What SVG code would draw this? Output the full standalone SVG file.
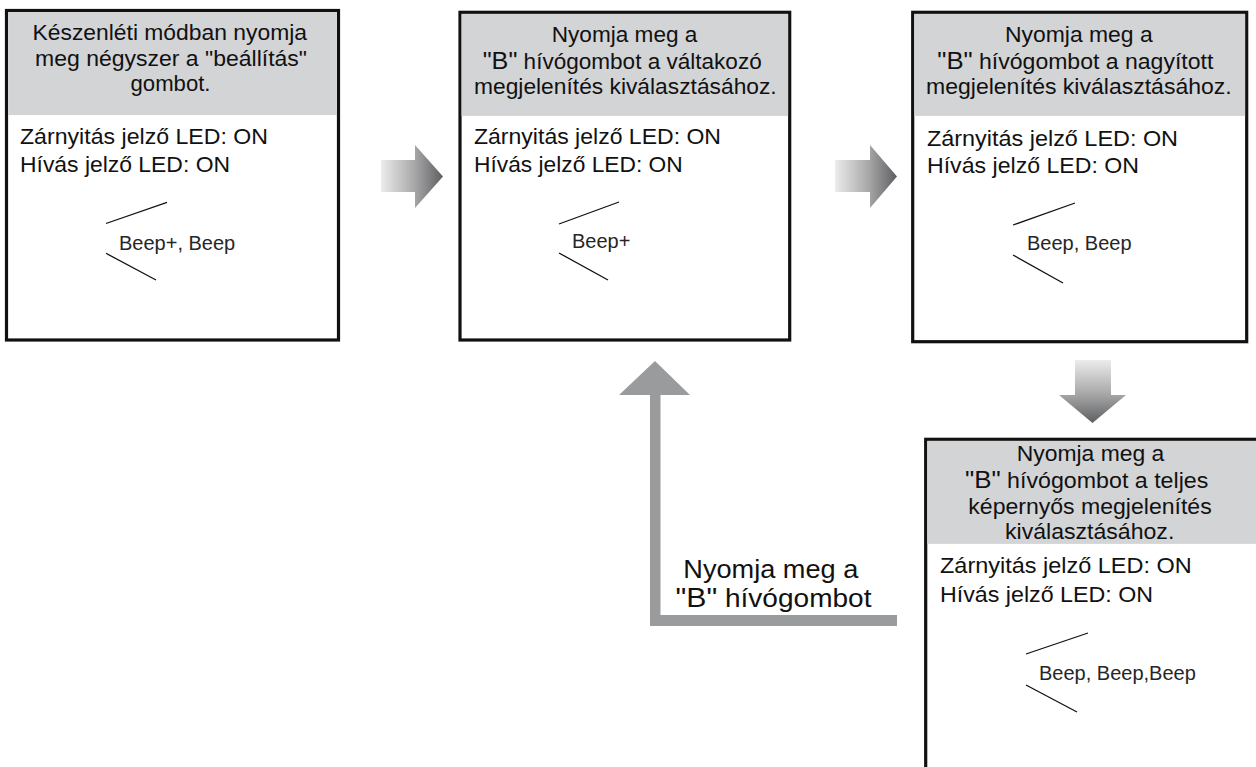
<svg xmlns="http://www.w3.org/2000/svg" width="1256" height="767" viewBox="0 0 1256 767">
<style>
.box{fill:#ffffff;stroke:#111111;stroke-width:3.2}
.hdr{fill:#d3d4d6}
.t{font-family:"Liberation Sans",Arial,sans-serif;font-size:21.5px;fill:#111111}
.b{font-size:24px}
.beep{font-family:"Liberation Sans",Arial,sans-serif;font-size:20px;fill:#262626}
.tick{stroke:#111111;stroke-width:1.3;fill:none}
.lbl{font-family:"Liberation Sans",Arial,sans-serif;font-size:25px;fill:#111111}
.loop{fill:#9a9b9d}
</style>
<defs>
<linearGradient id="gh" x1="0" y1="0" x2="1" y2="0">
<stop offset="0" stop-color="#ececec"/>
<stop offset="0.55" stop-color="#a6a6a7"/>
<stop offset="1" stop-color="#5e5f61"/>
</linearGradient>
<linearGradient id="gv" x1="0" y1="0" x2="0" y2="1">
<stop offset="0" stop-color="#ececec"/>
<stop offset="0.55" stop-color="#a6a6a7"/>
<stop offset="1" stop-color="#5e5f61"/>
</linearGradient>
</defs>
<rect width="1256" height="767" fill="#ffffff"/>

<g id="node1">
<rect class="box" x="6.5" y="10.5" width="332" height="329.5"/>
<rect class="hdr" x="8.1" y="12.1" width="328.8" height="103"/>
<text class="t" x="32.5" y="40" textLength="274.5" lengthAdjust="spacingAndGlyphs">Készenléti módban nyomja</text>
<text class="t" x="35" y="65.5" textLength="272" lengthAdjust="spacingAndGlyphs">meg négyszer a "beállítás"</text>
<text class="t" x="130.5" y="90.5" textLength="80" lengthAdjust="spacingAndGlyphs">gombot.</text>
<text class="t" x="20" y="143.5" textLength="248" lengthAdjust="spacingAndGlyphs">Zárnyitás jelző LED: ON</text>
<text class="t" x="20" y="171.5" textLength="210" lengthAdjust="spacingAndGlyphs">Hívás jelző LED: ON</text>
<line class="tick" x1="106" y1="223.5" x2="167" y2="202.3"/>
<line class="tick" x1="106" y1="253.3" x2="156" y2="280"/>
<text class="beep" x="119" y="250">Beep+, Beep</text>
</g>

<g id="node2">
<rect class="box" x="460" y="12.3" width="329.7" height="327.7"/>
<rect class="hdr" x="461.6" y="13.9" width="326.5" height="102"/>
<text class="t" x="551.7" y="41.7" textLength="145.7" lengthAdjust="spacingAndGlyphs">Nyomja meg a</text>
<text class="t" x="482.7" y="69" textLength="279" lengthAdjust="spacingAndGlyphs"><tspan class="b">"B"</tspan> hívógombot a váltakozó</text>
<text class="t" x="474" y="94" textLength="302.7" lengthAdjust="spacingAndGlyphs">megjelenítés kiválasztásához.</text>
<text class="t" x="474" y="144" textLength="247" lengthAdjust="spacingAndGlyphs">Zárnyitás jelző LED: ON</text>
<text class="t" x="474" y="171.7" textLength="208.7" lengthAdjust="spacingAndGlyphs">Hívás jelző LED: ON</text>
<line class="tick" x1="559" y1="224" x2="619" y2="202"/>
<line class="tick" x1="559" y1="253" x2="608" y2="280"/>
<text class="beep" x="572" y="248.3">Beep+</text>
</g>

<g id="node3">
<rect class="box" x="912.7" y="12.3" width="334" height="329.4"/>
<rect class="hdr" x="914.3" y="13.9" width="330.8" height="102"/>
<text class="t" x="1005" y="41.7" textLength="147.7" lengthAdjust="spacingAndGlyphs">Nyomja meg a</text>
<text class="t" x="937.3" y="68.5" textLength="276" lengthAdjust="spacingAndGlyphs"><tspan class="b">"B"</tspan> hívógombot a nagyított</text>
<text class="t" x="926" y="94.3" textLength="305.7" lengthAdjust="spacingAndGlyphs">megjelenítés kiválasztásához.</text>
<text class="t" x="927" y="145.5" textLength="251" lengthAdjust="spacingAndGlyphs">Zárnyitás jelző LED: ON</text>
<text class="t" x="927" y="172.7" textLength="212" lengthAdjust="spacingAndGlyphs">Hívás jelző LED: ON</text>
<line class="tick" x1="1013" y1="225" x2="1075" y2="203"/>
<line class="tick" x1="1013" y1="255" x2="1063" y2="283"/>
<text class="beep" x="1027" y="250">Beep, Beep</text>
</g>

<g id="node4">
<rect class="box" x="925.7" y="439.3" width="334" height="340"/>
<rect class="hdr" x="927.3" y="440.9" width="330" height="103"/>
<text class="t" x="1016.7" y="461" textLength="147.6" lengthAdjust="spacingAndGlyphs">Nyomja meg a</text>
<text class="t" x="965" y="487.7" textLength="243.3" lengthAdjust="spacingAndGlyphs"><tspan class="b">"B"</tspan> hívógombot a teljes</text>
<text class="t" x="968.3" y="514" textLength="243.4" lengthAdjust="spacingAndGlyphs">képernyős megjelenítés</text>
<text class="t" x="1005" y="539.3" textLength="169.3" lengthAdjust="spacingAndGlyphs">kiválasztásához.</text>
<text class="t" x="940" y="573.3" textLength="251.7" lengthAdjust="spacingAndGlyphs">Zárnyitás jelző LED: ON</text>
<text class="t" x="940" y="601.7" textLength="213" lengthAdjust="spacingAndGlyphs">Hívás jelző LED: ON</text>
<line class="tick" x1="1026" y1="654" x2="1088" y2="633"/>
<line class="tick" x1="1026" y1="685" x2="1077" y2="712"/>
<text class="beep" x="1039" y="680">Beep, Beep,Beep</text>
</g>

<g id="connectors">
<polygon fill="url(#gh)" points="381,160 415,160 415,145 443,176.5 415,208 415,192 381,192"/>
<polygon fill="url(#gh)" points="835,160 870,160 870,145 897,176.5 870,208 870,192 835,192"/>
<polygon fill="url(#gv)" points="1075,360 1111,360 1111,395 1126,395 1092.5,423 1059,395 1075,395"/>
<polygon class="loop" points="619,395 655,361 690,395 660.5,395 660.5,615 897,615 897,626 650,626 650,395"/>
<text class="lbl" x="683.3" y="578.3" textLength="175" lengthAdjust="spacingAndGlyphs">Nyomja meg a</text>
<text class="lbl" x="675.5" y="607" textLength="196" lengthAdjust="spacingAndGlyphs"><tspan font-size="27">"B"</tspan> hívógombot</text>
</g>
</svg>
